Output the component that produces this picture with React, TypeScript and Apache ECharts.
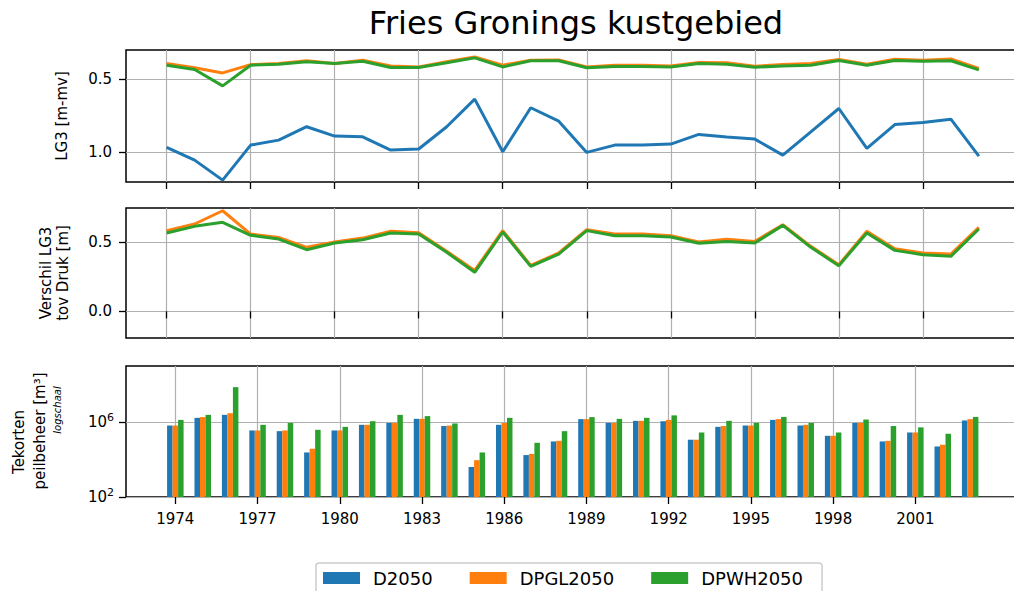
import React, { useEffect, useRef } from "react";
import * as echarts from "echarts";

const years = [1974, 1975, 1976, 1977, 1978, 1979, 1980, 1981, 1982, 1983, 1984, 1985, 1986, 1987, 1988, 1989, 1990, 1991, 1992, 1993, 1994, 1995, 1996, 1997, 1998, 1999, 2000, 2001, 2002, 2003];
const tickYears = [1974, 1977, 1980, 1983, 1986, 1989, 1992, 1995, 1998, 2001];
const seriesNames = ["D2050", "DPGL2050", "DPWH2050"];
const colors = ["#1f77b4", "#ff7f0e", "#2ca02c"];

// LG3 [m-mv]
const lg3D2050 = [0.968, 1.055, 1.192, 0.952, 0.918, 0.826, 0.89, 0.895, 0.986, 0.979, 0.826, 0.637, 0.998, 0.696, 0.788, 1.002, 0.952, 0.952, 0.945, 0.879, 0.897, 0.911, 1.021, 0.861, 0.701, 0.975, 0.811, 0.797, 0.774, 1.027];
const lg3DPGL2050 = [0.393, 0.422, 0.457, 0.4, 0.393, 0.374, 0.393, 0.37, 0.409, 0.416, 0.381, 0.347, 0.404, 0.37, 0.368, 0.416, 0.404, 0.404, 0.409, 0.386, 0.388, 0.411, 0.4, 0.393, 0.365, 0.397, 0.363, 0.37, 0.361, 0.427];
const lg3DPWH2050 = [0.404, 0.434, 0.546, 0.404, 0.397, 0.381, 0.393, 0.377, 0.42, 0.42, 0.388, 0.354, 0.416, 0.374, 0.374, 0.422, 0.413, 0.413, 0.416, 0.393, 0.397, 0.418, 0.409, 0.404, 0.372, 0.404, 0.372, 0.377, 0.374, 0.436];

// Verschil LG3 tov Druk [m]
const diffDPGL2050 = [0.585, 0.633, 0.729, 0.56, 0.536, 0.464, 0.502, 0.531, 0.58, 0.57, 0.435, 0.297, 0.585, 0.333, 0.423, 0.592, 0.56, 0.56, 0.548, 0.502, 0.522, 0.507, 0.628, 0.471, 0.338, 0.58, 0.454, 0.423, 0.415, 0.609];
const diffDPWH2050 = [0.568, 0.616, 0.645, 0.551, 0.524, 0.447, 0.495, 0.519, 0.568, 0.56, 0.428, 0.283, 0.575, 0.326, 0.415, 0.585, 0.548, 0.548, 0.539, 0.493, 0.507, 0.495, 0.623, 0.464, 0.331, 0.568, 0.442, 0.411, 0.399, 0.597];

// Tekorten peilbeheer [m3]
const tekortD2050 = [6.6e5, 1.7e6, 2.45e6, 3.6e5, 3.3e5, 2.4e4, 3.6e5, 7.2e5, 9.1e5, 1.5e6, 6.2e5, 4.0e3, 7.2e5, 1.74e4, 9.3e4, 1.45e6, 9.1e5, 1.17e6, 1.12e6, 1.15e5, 5.6e5, 6.6e5, 1.32e6, 6.6e5, 1.86e5, 9.1e5, 9.3e4, 2.8e5, 5.0e4, 1.23e6];
const tekortDPGL2050 = [6.6e5, 1.86e6, 3.0e6, 3.6e5, 3.6e5, 3.8e4, 3.6e5, 7.2e5, 9.1e5, 1.5e6, 6.6e5, 9.3e3, 9.1e5, 2.0e4, 1.0e5, 1.45e6, 9.1e5, 1.17e6, 1.32e6, 1.15e5, 6.2e5, 6.6e5, 1.45e6, 7.2e5, 1.86e5, 9.1e5, 1.0e5, 2.8e5, 6.2e4, 1.45e6];
const tekortDPWH2050 = [1.32e6, 2.45e6, 7.4e7, 7.2e5, 9.1e5, 3.9e5, 5.6e5, 1.12e6, 2.45e6, 2.1e6, 8.5e5, 2.4e4, 1.7e6, 7.9e4, 3.3e5, 1.86e6, 1.5e6, 1.7e6, 2.3e6, 2.8e5, 1.17e6, 9.1e5, 1.9e6, 9.1e5, 2.8e5, 1.38e6, 6.2e5, 5.25e5, 2.4e5, 1.9e6];

const FONT = "DejaVu Sans";

export default function App() {
  const ref = useRef<HTMLDivElement>(null);
  useEffect(() => {
    if (!ref.current) return;
    const chart = echarts.init(ref.current, null, { renderer: "svg" });

    const gridCommon = {
      left: 126, width: 893.5, show: true, borderColor: "#000", borderWidth: 1.5,
      backgroundColor: "transparent", containLabel: false, outerBoundsMode: "none",
    };
    const grids = [
      { ...gridCommon, top: 50, height: 132 },
      { ...gridCommon, top: 208, height: 130 },
      { ...gridCommon, top: 366, height: 131 },
    ];
    const split = { show: true, lineStyle: { color: "#b0b0b0", width: 1.2 } };
    const tick = { show: true, length: 7, lineStyle: { color: "#000", width: 1.3 } };
    const label = { color: "#000", fontFamily: FONT, fontSize: 15 };

    const xAxis = [0, 1, 2].map((g) => ({
      type: "value",
      gridIndex: g,
      min: g === 2 ? 1972.2 : 1972.55,
      max: g === 2 ? 2004.8 : 2004.45,
      axisLine: { show: false },
      axisTick: { ...tick, customValues: tickYears },
      axisLabel: { ...label, show: g === 2, margin: 14, customValues: tickYears, formatter: (v: number) => String(v) },
      splitLine: split,
    }));

    const yAxis = [
      {
        type: "value", gridIndex: 0, inverse: true, min: 0.3, max: 1.205,
        axisLine: { show: false },
        axisTick: { ...tick, customValues: [0.5, 1.0] },
        axisLabel: { ...label, margin: 14, customValues: [0.5, 1.0], formatter: (v: number) => v.toFixed(1) },
        splitLine: split,
      },
      {
        type: "value", gridIndex: 1, min: -0.193, max: 0.749,
        axisLine: { show: false },
        axisTick: { ...tick, customValues: [0, 0.5] },
        axisLabel: { ...label, margin: 14, customValues: [0, 0.5], formatter: (v: number) => v.toFixed(1) },
        splitLine: split,
      },
      {
        type: "value", gridIndex: 2, min: 2, max: 9,
        axisLine: { show: false },
        axisTick: { ...tick, customValues: [2, 6] },
        axisLabel: {
          ...label, margin: 12, customValues: [2, 6],
          formatter: (v: number) => `{b|10}{e|${v}}`,
          rich: {
            b: { fontFamily: FONT, fontSize: 15, color: "#000", lineHeight: 20 },
            e: { fontFamily: FONT, fontSize: 11, color: "#000", lineHeight: 20, padding: [0, 0, 9, 0] },
          },
        },
        splitLine: split,
      },
    ];

    const lineSeries = (name: string, idx: number, grid: number, arr: number[]) => ({
      type: "line",
      name,
      xAxisIndex: grid,
      yAxisIndex: grid,
      data: years.map((y, i) => [y, arr[i]]),
      showSymbol: false,
      symbol: "none",
      lineStyle: { color: colors[idx], width: 3 },
      itemStyle: { color: colors[idx] },
      z: 2 + idx,
    });
    const barSeries = (name: string, idx: number, arr: number[]) => ({
      type: "bar",
      name,
      xAxisIndex: 2,
      yAxisIndex: 2,
      data: years.map((y, i) => [y, Math.log10(arr[i])]),
      barWidth: 5.5,
      barGap: "0%",
      itemStyle: { color: colors[idx] },
      clip: true,
    });

    const series = [
      lineSeries(seriesNames[0], 0, 0, lg3D2050),
      lineSeries(seriesNames[1], 1, 0, lg3DPGL2050),
      lineSeries(seriesNames[2], 2, 0, lg3DPWH2050),
      lineSeries(seriesNames[1], 1, 1, diffDPGL2050),
      lineSeries(seriesNames[2], 2, 1, diffDPWH2050),
      barSeries(seriesNames[0], 0, tekortD2050),
      barSeries(seriesNames[1], 1, tekortDPGL2050),
      barSeries(seriesNames[2], 2, tekortDPWH2050),
    ];

    const vtext = (x: number, y: number, text: string, fontSize = 15, italic = false) => ({
      type: "text",
      x,
      y,
      rotation: Math.PI / 2,
      style: {
        text,
        fill: "#000",
        font: `${italic ? "italic " : ""}${fontSize}px '${FONT}'`,
        textAlign: "center",
        textVerticalAlign: "middle",
      },
    });

    chart.setOption({
      animation: false,
      backgroundColor: "#fff",
      grid: grids,
      xAxis,
      yAxis,
      series,
      legend: {
        data: seriesNames,
        left: 316,
        top: 563,
        orient: "horizontal",
        icon: "rect",
        itemWidth: 37,
        itemHeight: 12,
        itemGap: 37,
        selectedMode: false,
        padding: [5, 19, 8, 7],
        borderColor: "#cccccc",
        borderWidth: 1.5,
        borderRadius: 3,
        textStyle: { color: "#000", fontFamily: FONT, fontSize: 18, lineHeight: 20, padding: [0, 0, 0, 8] },
      },
      graphic: [
        {
          type: "text",
          x: 576,
          y: 23,
          style: { text: "Fries Gronings kustgebied", fill: "#000", font: `32px '${FONT}'`, textAlign: "center", textVerticalAlign: "middle" },
        },
        vtext(62, 116, "LG3 [m-mv]"),
        vtext(45.5, 273, "Verschil LG3"),
        vtext(62.5, 273, "tov Druk [m]"),
        vtext(19, 442, "Tekorten"),
        vtext(40, 431, "peilbeheer [m\u00b3]"),
        vtext(57, 410, "logschaal", 10, true),
      ],
    });
    return () => chart.dispose();
  }, []);
  return <div ref={ref} style={{ position: "absolute", left: 0, top: 0, width: 1014, height: 591 }} />;
}
